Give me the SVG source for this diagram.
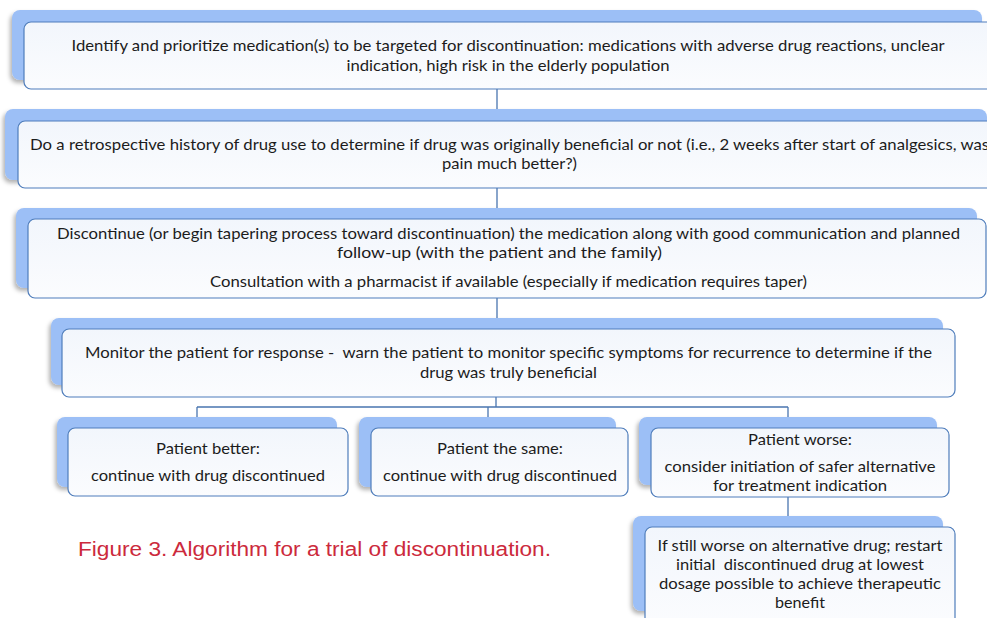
<svg xmlns="http://www.w3.org/2000/svg" width="987" height="618" viewBox="0 0 987 618">
<defs>
<filter id="sh" x="-5%" y="-10%" width="110%" height="130%">
<feDropShadow dx="-2" dy="3" stdDeviation="2" flood-color="#000" flood-opacity="0.3"/>
</filter>
<linearGradient id="fg" x1="0" y1="0" x2="0" y2="1">
<stop offset="0" stop-color="#f2f6fc"/>
<stop offset="1" stop-color="#fbfcfe"/>
</linearGradient>
</defs>
<style>
.back{fill:#9cbff6;filter:url(#sh)}
.front{fill:url(#fg);stroke:#4f7dbb;stroke-width:1.2}
.t{font-family:Lato,"Liberation Sans",sans-serif;font-size:16px;fill:#1c1c1c;white-space:pre}
.c{text-anchor:middle}
.cn{fill:none;stroke:#4a76b0;stroke-width:1.3}
.cap{font-family:"Liberation Sans",Arial,sans-serif;font-size:20px;fill:#cc2a3c}
</style>
<rect width="987" height="618" fill="#fff"/>
<g id="connectors">
<path class="cn" d="M497 89V121M497 188V219M497 298V329M496 397V407M197 407H788M197 407V428M488 407V428M788 407V428M788 497V527"/>
</g>
<g id="n1">
<rect class="back" x="12" y="10" width="970" height="70" rx="8"/>
<rect class="front" x="24" y="22" width="975" height="67" rx="7"/>
<text class="t c" x="508" y="51" textLength="873" lengthAdjust="spacingAndGlyphs">Identify and prioritize medication(s) to be targeted for discontinuation: medications with adverse drug reactions, unclear</text>
<text class="t c" x="508" y="71" textLength="323" lengthAdjust="spacingAndGlyphs">indication, high risk in the elderly population</text>
</g>
<g id="n2">
<rect class="back" x="5" y="109" width="982" height="71" rx="8"/>
<rect class="front" x="18" y="121" width="985" height="67" rx="7"/>
<text class="t" x="30" y="150" textLength="959" lengthAdjust="spacingAndGlyphs">Do a retrospective history of drug use to determine if drug was originally beneficial or not (i.e., 2 weeks after start of analgesics, was</text>
<text class="t c" x="509.5" y="169" textLength="135" lengthAdjust="spacingAndGlyphs">pain much better?)</text>
</g>
<g id="n3">
<rect class="back" x="16" y="208" width="961" height="80" rx="8"/>
<rect class="front" x="28" y="219" width="958" height="79" rx="7"/>
<text class="t" x="57" y="239" textLength="903" lengthAdjust="spacingAndGlyphs">Discontinue (or begin tapering process toward discontinuation) the medication along with good communication and planned</text>
<text class="t" x="337" y="258" textLength="325" lengthAdjust="spacingAndGlyphs">follow-up (with the patient and the family)</text>
<text class="t" x="210" y="287" textLength="597" lengthAdjust="spacingAndGlyphs">Consultation with a pharmacist if available (especially if medication requires taper)</text>
</g>
<g id="n4">
<rect class="back" x="51" y="318" width="892" height="67" rx="8"/>
<rect class="front" x="62" y="329" width="893" height="68" rx="7"/>
<text class="t" x="85" y="358" textLength="847" lengthAdjust="spacingAndGlyphs">Monitor the patient for response -  warn the patient to monitor specific symptoms for recurrence to determine if the</text>
<text class="t" x="420" y="378" textLength="177" lengthAdjust="spacingAndGlyphs">drug was truly beneficial</text>
</g>
<g id="n5">
<rect class="back" x="57" y="417" width="280" height="70" rx="8"/>
<rect class="front" x="68" y="428" width="280" height="68" rx="7"/>
<text class="t c" x="208" y="454" textLength="104" lengthAdjust="spacingAndGlyphs">Patient better:</text>
<text class="t c" x="208" y="481" textLength="234" lengthAdjust="spacingAndGlyphs">continue with drug discontinued</text>
</g>
<g id="n6">
<rect class="back" x="359" y="417" width="257" height="70" rx="8"/>
<rect class="front" x="371" y="428" width="257" height="68" rx="7"/>
<text class="t c" x="500" y="454" textLength="126" lengthAdjust="spacingAndGlyphs">Patient the same:</text>
<text class="t c" x="500" y="481" textLength="234" lengthAdjust="spacingAndGlyphs">continue with drug discontinued</text>
</g>
<g id="n7">
<rect class="back" x="639" y="417" width="298" height="68" rx="8"/>
<rect class="front" x="651" y="428" width="298" height="69" rx="7"/>
<text class="t c" x="800" y="445" textLength="104" lengthAdjust="spacingAndGlyphs">Patient worse:</text>
<text class="t c" x="800" y="472" textLength="271" lengthAdjust="spacingAndGlyphs">consider initiation of safer alternative</text>
<text class="t c" x="800" y="491" textLength="174" lengthAdjust="spacingAndGlyphs">for treatment indication</text>
</g>
<g id="n8">
<rect class="back" x="633" y="516" width="310" height="95" rx="8"/>
<rect class="front" x="645" y="527" width="310" height="100" rx="7"/>
<text class="t c" x="800" y="551" textLength="285" lengthAdjust="spacingAndGlyphs">If still worse on alternative drug; restart</text>
<text class="t c" x="800" y="570" textLength="248" lengthAdjust="spacingAndGlyphs">initial  discontinued drug at lowest</text>
<text class="t c" x="800" y="589" textLength="282" lengthAdjust="spacingAndGlyphs">dosage possible to achieve therapeutic</text>
<text class="t c" x="800" y="608" textLength="50" lengthAdjust="spacingAndGlyphs">benefit</text>
</g>
<text class="cap" x="78" y="556" textLength="473" lengthAdjust="spacingAndGlyphs">Figure 3. Algorithm for a trial of discontinuation.</text>
</svg>
